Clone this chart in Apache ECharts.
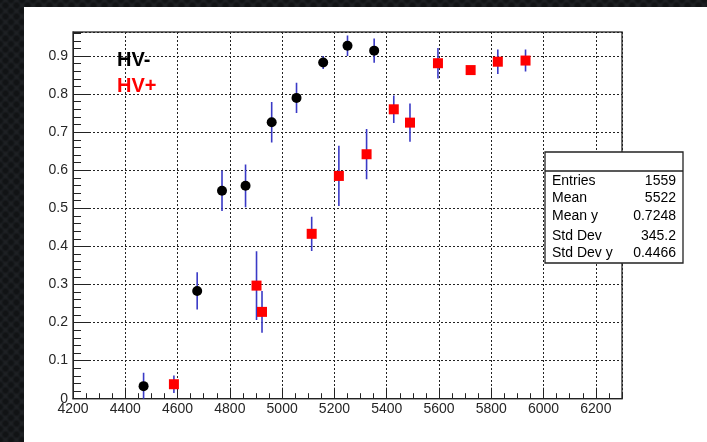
<!DOCTYPE html>
<html>
<head>
<meta charset="utf-8">
<script src="https://cdn.jsdelivr.net/npm/echarts@6/dist/echarts.min.js"></script>
<style>
  html, body { margin: 0; padding: 0; width: 707px; height: 442px; overflow: hidden; }
  body {
    background-color: #1e2124;
    background-image:
      radial-gradient(circle, #111315 0 2px, rgba(17,19,21,0) 4.5px),
      radial-gradient(circle, #111315 0 2px, rgba(17,19,21,0) 4.5px);
    background-size: 11px 11px;
    background-position: 0 0, 5.5px 5.5px;
  }
  #panel { position: absolute; left: 24px; top: 7px; right: 0; bottom: 0; background: #ffffff; }
  #chart { position: absolute; left: 0; top: 0; width: 707px; height: 442px; }
</style>
</head>
<body>
<div id="panel"></div>
<div id="chart"></div>
<script>
// Efficiency vs high voltage, two polarities, with vertical error bars
const hvMinusX   = [4470, 4675, 4770, 4860, 4960, 5055, 5157, 5250, 5352];
const hvMinusY   = [0.033, 0.283, 0.546, 0.559, 0.726, 0.790, 0.883, 0.927, 0.914];
const hvMinusErr = [0.035, 0.049, 0.053, 0.056, 0.053, 0.040, 0.017, 0.027, 0.032];

const hvPlusX   = [4586, 4902, 4923, 5113, 5217, 5323, 5427, 5489, 5596, 5721, 5825, 5931];
const hvPlusY   = [0.038, 0.297, 0.228, 0.433, 0.585, 0.642, 0.760, 0.725, 0.881, 0.863, 0.885, 0.888];
const hvPlusErr = [0.023, 0.090, 0.055, 0.045, 0.079, 0.066, 0.036, 0.050, 0.040, 0.010, 0.032, 0.029];

// axis ranges and tick steps
const xRange = [4200, 6300];
const xMajor = 200;
const xMinor = 50;
const yRange = [0, 0.963];
const yMajor = 0.1;
const yMinor = 0.02;

// statistics box
const statLabels = ['Entries', 'Mean', 'Mean y', 'Std Dev', 'Std Dev y'];
const statValues = ['1559', '5522', '0.7248', '345.2', '0.4466'];

const legendNames  = ['HV-', 'HV+'];
const legendColors = ['#000000', '#ff0000'];

const FONT = '"Liberation Sans", Arial, Helvetica, sans-serif';
const barColor = '#3a3ac6';

const chart = echarts.init(document.getElementById('chart'), null, { renderer: 'canvas' });

function errorBars(xs, ys, es) {
  return {
    type: 'custom',
    xAxisIndex: 0,
    yAxisIndex: 0,
    clip: true,
    z: 3,
    silent: true,
    data: xs.map((x, i) => [x, ys[i] - es[i], ys[i] + es[i]]),
    renderItem(params, api) {
      const lo = api.coord([api.value(0), api.value(1)]);
      const hi = api.coord([api.value(0), api.value(2)]);
      return {
        type: 'line',
        shape: { x1: lo[0], y1: lo[1], x2: hi[0], y2: hi[1] },
        style: { stroke: barColor, lineWidth: 1.6 }
      };
    }
  };
}

const splitStyle = { show: true, lineStyle: { type: [2, 2], color: '#222222', width: 1 } };
const labelStyle = { fontSize: 14, color: '#262626', fontFamily: FONT };

// stat box layout
const box = { x: 545, y: 152, w: 138, h: 111, header: 19 };
const rowY = [181, 198.5, 216.5, 236, 253];

const statTexts = [];
statLabels.forEach((s, i) => {
  statTexts.push({
    type: 'text', x: box.x + 7, y: rowY[i], z: 102,
    style: { text: s, font: '14px ' + FONT, fill: '#000', align: 'left', verticalAlign: 'middle' }
  });
  statTexts.push({
    type: 'text', x: box.x + box.w - 7, y: rowY[i], z: 102,
    style: { text: statValues[i], font: '14px ' + FONT, fill: '#000', align: 'right', verticalAlign: 'middle' }
  });
});

chart.setOption({
  backgroundColor: 'transparent',
  animation: false,
  grid: {
    left: 73, top: 32, right: 85, bottom: 43.3,
    show: true, borderColor: '#444444', borderWidth: 1.5, backgroundColor: 'transparent'
  },
  xAxis: [
    {
      type: 'value', min: xRange[0], max: xRange[1], interval: xMajor, position: 'bottom',
      axisLine: { show: true, onZero: false, lineStyle: { color: '#222', width: 1 } },
      axisTick: { show: true, inside: true, length: 11, lineStyle: { color: '#222' } },
      axisLabel: Object.assign({ margin: 3, showMaxLabel: false, formatter: v => String(v) }, labelStyle),
      splitLine: splitStyle
    },
    {
      type: 'value', min: xRange[0], max: xRange[1], interval: xMinor, position: 'bottom',
      axisLine: { show: false, onZero: false },
      axisTick: { show: true, inside: true, length: 5.5, lineStyle: { color: '#222' } },
      axisLabel: { show: false },
      splitLine: { show: false }
    }
  ],
  yAxis: [
    {
      type: 'value', min: yRange[0], max: yRange[1], interval: yMajor, position: 'left',
      axisLine: { show: true, onZero: false, lineStyle: { color: '#222', width: 1 } },
      axisTick: { show: true, inside: true, length: 16, lineStyle: { color: '#222' } },
      axisLabel: Object.assign({
        margin: 5, showMaxLabel: false,
        formatter: v => (v === 0 ? '0' : (Math.round(v * 10) / 10).toFixed(1))
      }, labelStyle),
      splitLine: splitStyle
    },
    {
      type: 'value', min: yRange[0], max: yRange[1], interval: yMinor, position: 'left',
      axisLine: { show: false, onZero: false },
      axisTick: { show: true, inside: true, length: 8, lineStyle: { color: '#222' } },
      axisLabel: { show: false },
      splitLine: { show: false }
    }
  ],
  series: [
    errorBars(hvMinusX, hvMinusY, hvMinusErr),
    errorBars(hvPlusX, hvPlusY, hvPlusErr),
    {
      name: legendNames[0], type: 'scatter', xAxisIndex: 0, yAxisIndex: 0, z: 5,
      symbol: 'circle', symbolSize: 10,
      itemStyle: { color: legendColors[0], opacity: 1 },
      data: hvMinusX.map((x, i) => [x, hvMinusY[i]])
    },
    {
      name: legendNames[1], type: 'scatter', xAxisIndex: 0, yAxisIndex: 0, z: 5,
      symbol: 'rect', symbolSize: 10,
      itemStyle: { color: legendColors[1], opacity: 1 },
      data: hvPlusX.map((x, i) => [x, hvPlusY[i]])
    }
  ],
  graphic: [
    {
      type: 'text', left: 117, top: 50, z: 100,
      style: { text: legendNames[0], font: 'bold 20px ' + FONT, fill: legendColors[0] }
    },
    {
      type: 'text', left: 117, top: 76, z: 100,
      style: { text: legendNames[1], font: 'bold 20px ' + FONT, fill: legendColors[1] }
    },
    {
      type: 'rect', z: 100,
      shape: { x: box.x, y: box.y, width: box.w, height: box.h },
      style: { fill: '#ffffff', stroke: '#222222', lineWidth: 1.3 }
    },
    {
      type: 'line', z: 101,
      shape: { x1: box.x, y1: box.y + box.header, x2: box.x + box.w, y2: box.y + box.header },
      style: { stroke: '#222222', lineWidth: 1.3 }
    }
  ].concat(statTexts)
});
</script>
</body>
</html>
